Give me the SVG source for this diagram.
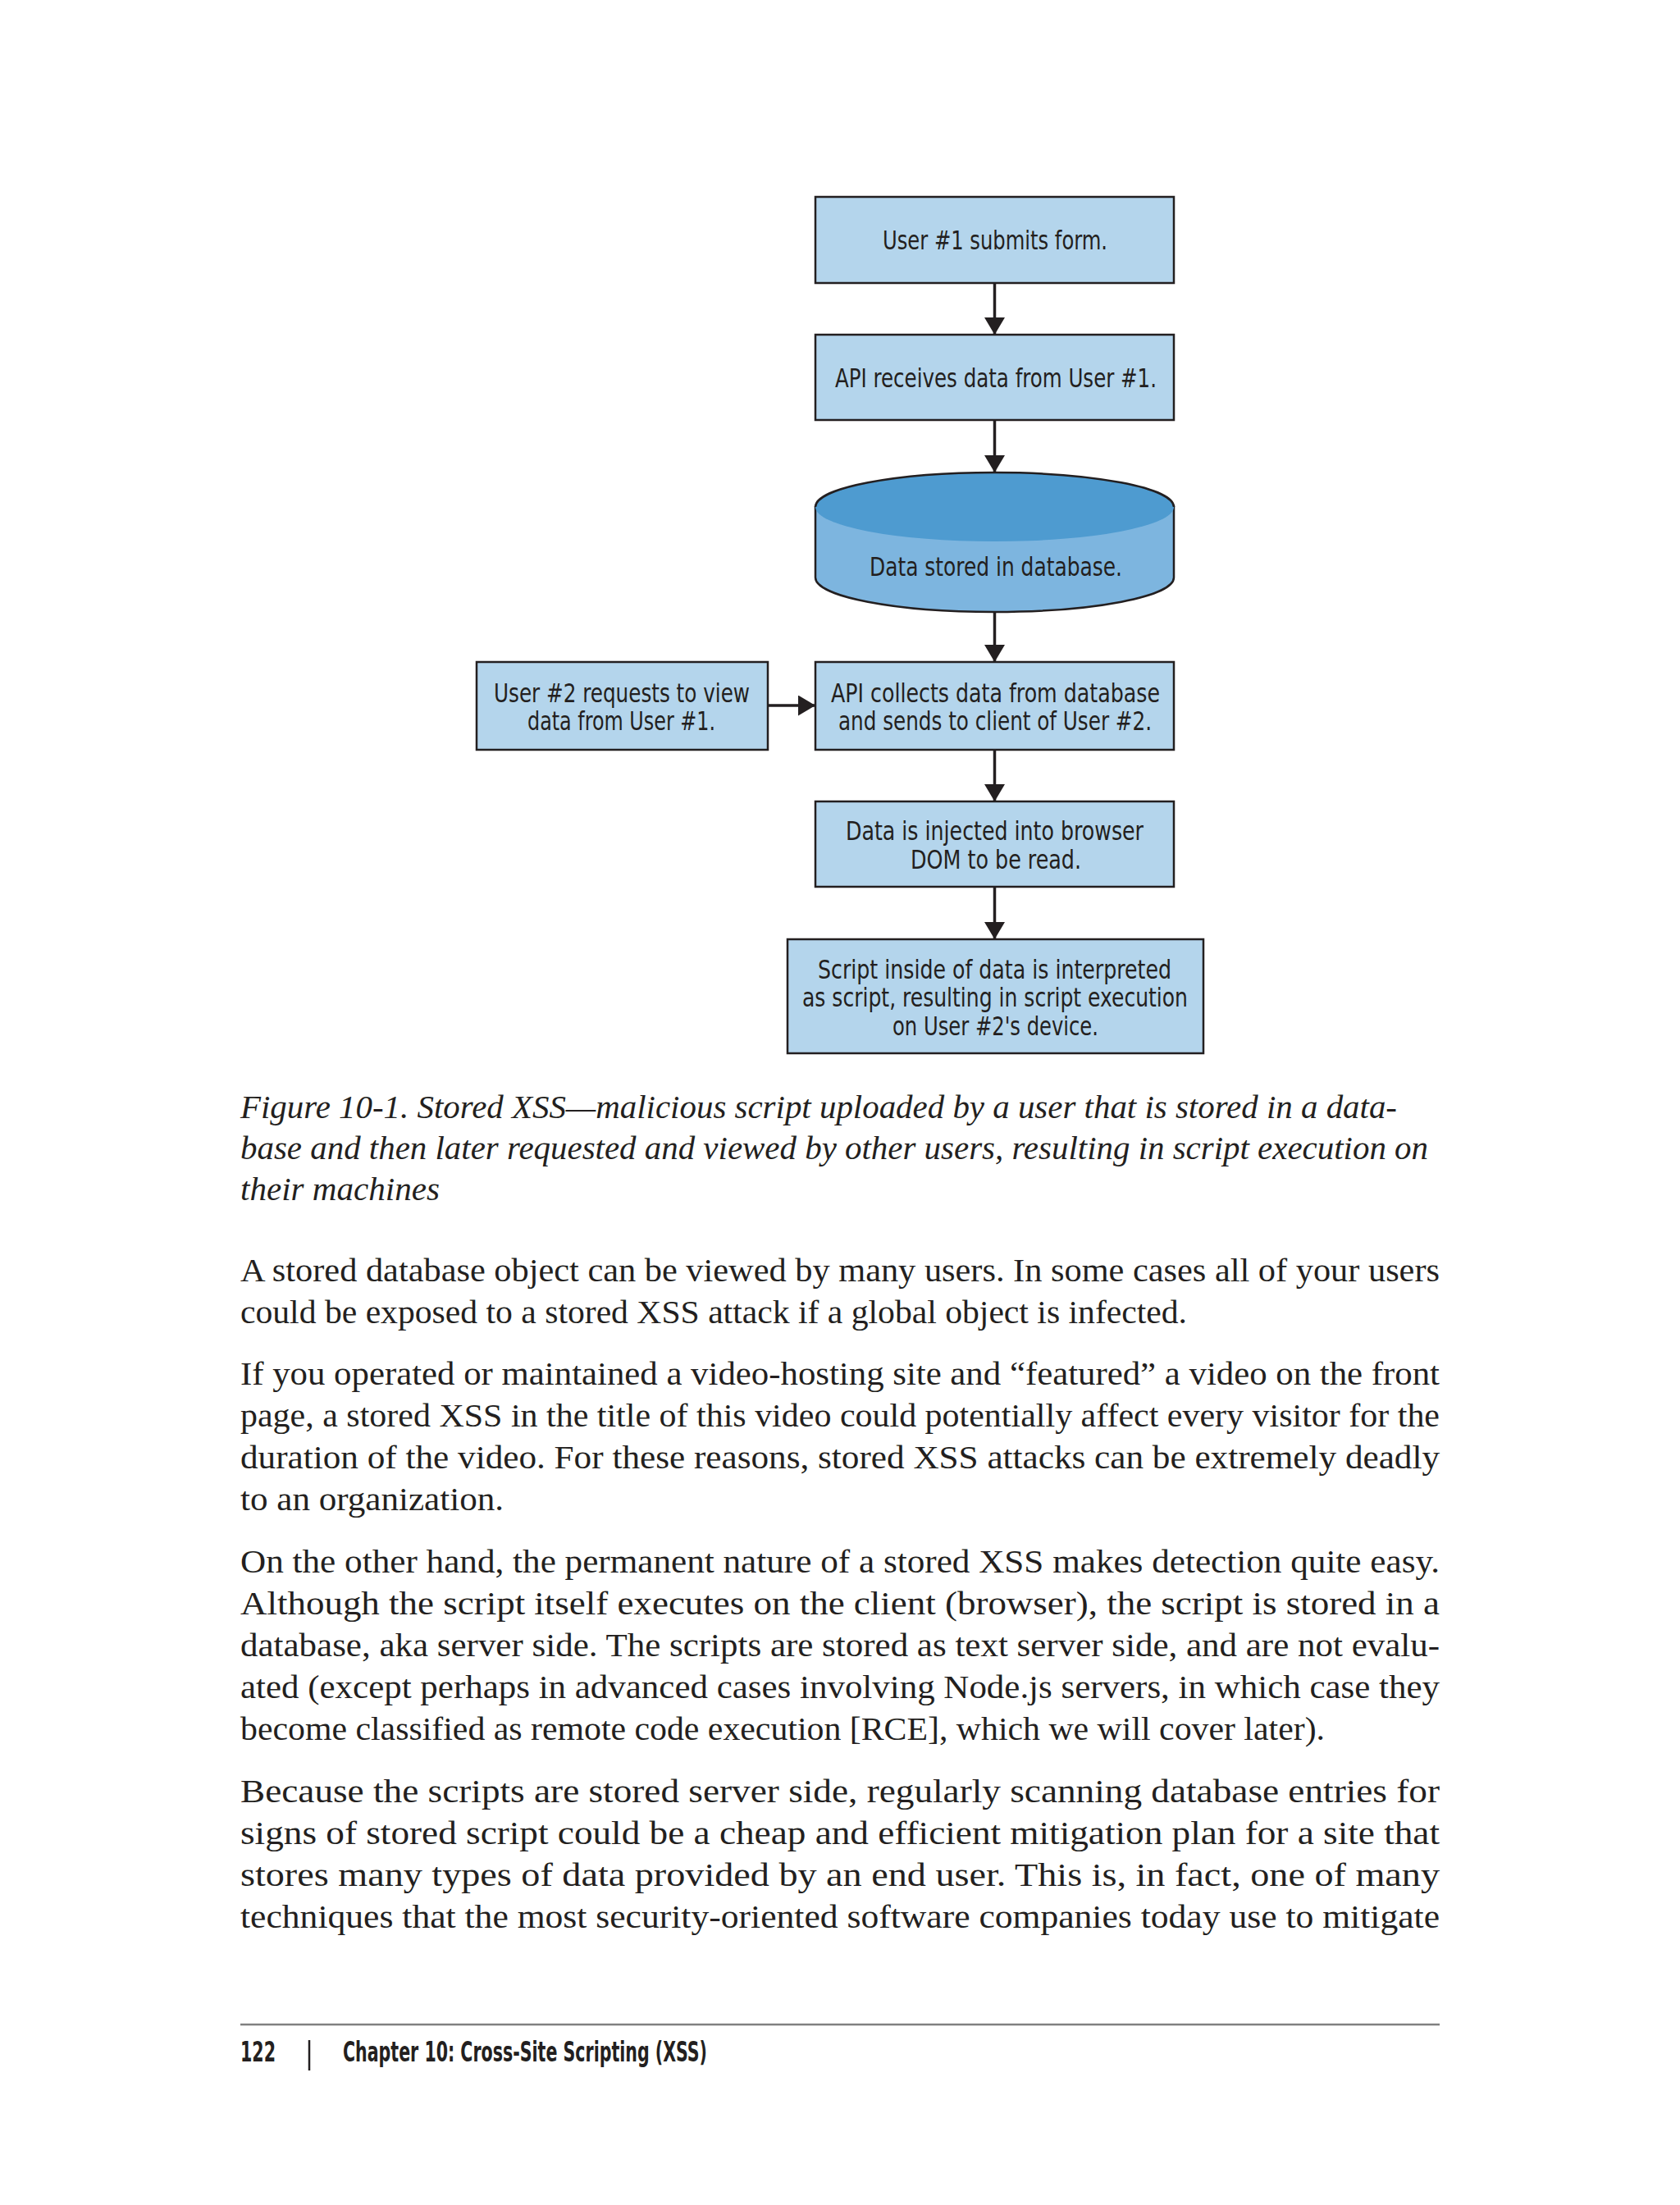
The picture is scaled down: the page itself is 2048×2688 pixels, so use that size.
<svg xmlns="http://www.w3.org/2000/svg" width="2048" height="2688" viewBox="0 0 2048 2688">
<style>
.box{fill:#b4d5ec;stroke:#231f20;stroke-width:2.5}
.lbl{font-family:"Liberation Sans Narrow","DejaVu Sans Condensed","Liberation Sans",sans-serif;font-size:32px;fill:#231f20}
.conn{stroke:#231f20;stroke-width:3.5;fill:none}
.body{font-family:"Liberation Serif","DejaVu Serif",serif;font-size:40px;fill:#231f20}
.cap{font-family:"Liberation Serif","DejaVu Serif",serif;font-size:40px;font-style:italic;fill:#231f20}
.foot{font-family:"Liberation Sans Narrow","DejaVu Sans Condensed","Liberation Sans",sans-serif;font-size:34px;font-weight:bold;fill:#231f20}
</style>
<defs>
<marker id="ah" markerUnits="userSpaceOnUse" markerWidth="24" markerHeight="26" refX="21" refY="12.5" orient="auto">
<path d="M0,0 L21,12.5 L0,25 z" fill="#231f20"/>
</marker>
</defs>
<rect width="2048" height="2688" fill="#ffffff"/>

<g id="n1">
<rect class="box" x="994" y="240" width="437" height="105"/>
<text class="lbl" x="1076" y="304" textLength="274" lengthAdjust="spacingAndGlyphs">User #1 submits form.</text>
</g>
<g id="n2">
<rect class="box" x="994" y="408" width="437" height="104"/>
<text class="lbl" x="1018" y="472" textLength="392" lengthAdjust="spacingAndGlyphs">API receives data from User #1.</text>
</g>
<g id="n3">
<path d="M994,618 L994,704 A218.5,42 0 0 0 1431,704 L1431,618 Z" fill="#7db5df" stroke="#231f20" stroke-width="2.5"/>
<ellipse cx="1212.5" cy="618" rx="218.5" ry="42" fill="#4e9bd0"/>
<path d="M994,618 A218.5,42 0 0 1 1431,618" fill="none" stroke="#231f20" stroke-width="2.5"/>
<text class="lbl" x="1060" y="702" textLength="308" lengthAdjust="spacingAndGlyphs">Data stored in database.</text>
</g>
<g id="n4">
<rect class="box" x="581" y="807" width="355" height="107"/>
<text class="lbl" x="602" y="856" textLength="312" lengthAdjust="spacingAndGlyphs">User #2 requests to view</text>
<text class="lbl" x="643" y="890" textLength="229" lengthAdjust="spacingAndGlyphs">data from User #1.</text>
</g>
<g id="n5">
<rect class="box" x="994" y="807" width="437" height="107"/>
<text class="lbl" x="1013" y="856" textLength="401" lengthAdjust="spacingAndGlyphs">API collects data from database</text>
<text class="lbl" x="1022" y="890" textLength="382" lengthAdjust="spacingAndGlyphs">and sends to client of User #2.</text>
</g>
<g id="n6">
<rect class="box" x="994" y="977" width="437" height="104"/>
<text class="lbl" x="1031" y="1024" textLength="363" lengthAdjust="spacingAndGlyphs">Data is injected into browser</text>
<text class="lbl" x="1110" y="1059" textLength="208" lengthAdjust="spacingAndGlyphs">DOM to be read.</text>
</g>
<g id="n7">
<rect class="box" x="960" y="1145" width="507" height="139"/>
<text class="lbl" x="997" y="1193" textLength="431" lengthAdjust="spacingAndGlyphs">Script inside of data is interpreted</text>
<text class="lbl" x="978" y="1227" textLength="470" lengthAdjust="spacingAndGlyphs">as script, resulting in script execution</text>
<text class="lbl" x="1088" y="1262" textLength="251" lengthAdjust="spacingAndGlyphs">on User #2's device.</text>
</g>

<g id="connectors">
<line class="conn" x1="1212.5" y1="345" x2="1212.5" y2="408" marker-end="url(#ah)"/>
<line class="conn" x1="1212.5" y1="512" x2="1212.5" y2="576" marker-end="url(#ah)"/>
<line class="conn" x1="1212.5" y1="746" x2="1212.5" y2="807" marker-end="url(#ah)"/>
<line class="conn" x1="936" y1="860" x2="994" y2="860" marker-end="url(#ah)"/>
<line class="conn" x1="1212.5" y1="914" x2="1212.5" y2="977" marker-end="url(#ah)"/>
<line class="conn" x1="1212.5" y1="1081" x2="1212.5" y2="1145" marker-end="url(#ah)"/>
</g>

<g id="caption">
<text class="cap" x="293" y="1363" textLength="1410" lengthAdjust="spacingAndGlyphs">Figure 10-1. Stored XSS—malicious script uploaded by a user that is stored in a data-</text>
<text class="cap" x="293" y="1413" textLength="1448" lengthAdjust="spacingAndGlyphs">base and then later requested and viewed by other users, resulting in script execution on</text>
<text class="cap" x="293" y="1463" textLength="243" lengthAdjust="spacingAndGlyphs">their machines</text>
</g>

<g id="bodytext">
<text class="body" x="293" y="1562" textLength="1462" lengthAdjust="spacingAndGlyphs">A stored database object can be viewed by many users. In some cases all of your users</text>
<text class="body" x="293" y="1613" textLength="1154" lengthAdjust="spacingAndGlyphs">could be exposed to a stored XSS attack if a global object is infected.</text>
<text class="body" x="293" y="1688" textLength="1462" lengthAdjust="spacingAndGlyphs">If you operated or maintained a video-hosting site and “featured” a video on the front</text>
<text class="body" x="293" y="1739" textLength="1462" lengthAdjust="spacingAndGlyphs">page, a stored XSS in the title of this video could potentially affect every visitor for the</text>
<text class="body" x="293" y="1790" textLength="1462" lengthAdjust="spacingAndGlyphs">duration of the video. For these reasons, stored XSS attacks can be extremely deadly</text>
<text class="body" x="293" y="1841" textLength="321" lengthAdjust="spacingAndGlyphs">to an organization.</text>
<text class="body" x="293" y="1917" textLength="1462" lengthAdjust="spacingAndGlyphs">On the other hand, the permanent nature of a stored XSS makes detection quite easy.</text>
<text class="body" x="293" y="1968" textLength="1462" lengthAdjust="spacingAndGlyphs">Although the script itself executes on the client (browser), the script is stored in a</text>
<text class="body" x="293" y="2019" textLength="1462" lengthAdjust="spacingAndGlyphs">database, aka server side. The scripts are stored as text server side, and are not evalu-</text>
<text class="body" x="293" y="2070" textLength="1462" lengthAdjust="spacingAndGlyphs">ated (except perhaps in advanced cases involving Node.js servers, in which case they</text>
<text class="body" x="293" y="2121" textLength="1322" lengthAdjust="spacingAndGlyphs">become classified as remote code execution [RCE], which we will cover later).</text>
<text class="body" x="293" y="2197" textLength="1462" lengthAdjust="spacingAndGlyphs">Because the scripts are stored server side, regularly scanning database entries for</text>
<text class="body" x="293" y="2248" textLength="1462" lengthAdjust="spacingAndGlyphs">signs of stored script could be a cheap and efficient mitigation plan for a site that</text>
<text class="body" x="293" y="2299" textLength="1462" lengthAdjust="spacingAndGlyphs">stores many types of data provided by an end user. This is, in fact, one of many</text>
<text class="body" x="293" y="2350" textLength="1462" lengthAdjust="spacingAndGlyphs">techniques that the most security-oriented software companies today use to mitigate</text>
</g>

<g id="footer">
<line x1="293" y1="2468" x2="1755" y2="2468" stroke="#808080" stroke-width="2.5"/>
<text class="foot" x="293" y="2513" textLength="43" lengthAdjust="spacingAndGlyphs">122</text>
<line x1="377" y1="2487" x2="377" y2="2524" stroke="#231f20" stroke-width="2.5"/>
<text class="foot" x="418" y="2513" textLength="444" lengthAdjust="spacingAndGlyphs">Chapter 10: Cross-Site Scripting (XSS)</text>
</g>
</svg>
